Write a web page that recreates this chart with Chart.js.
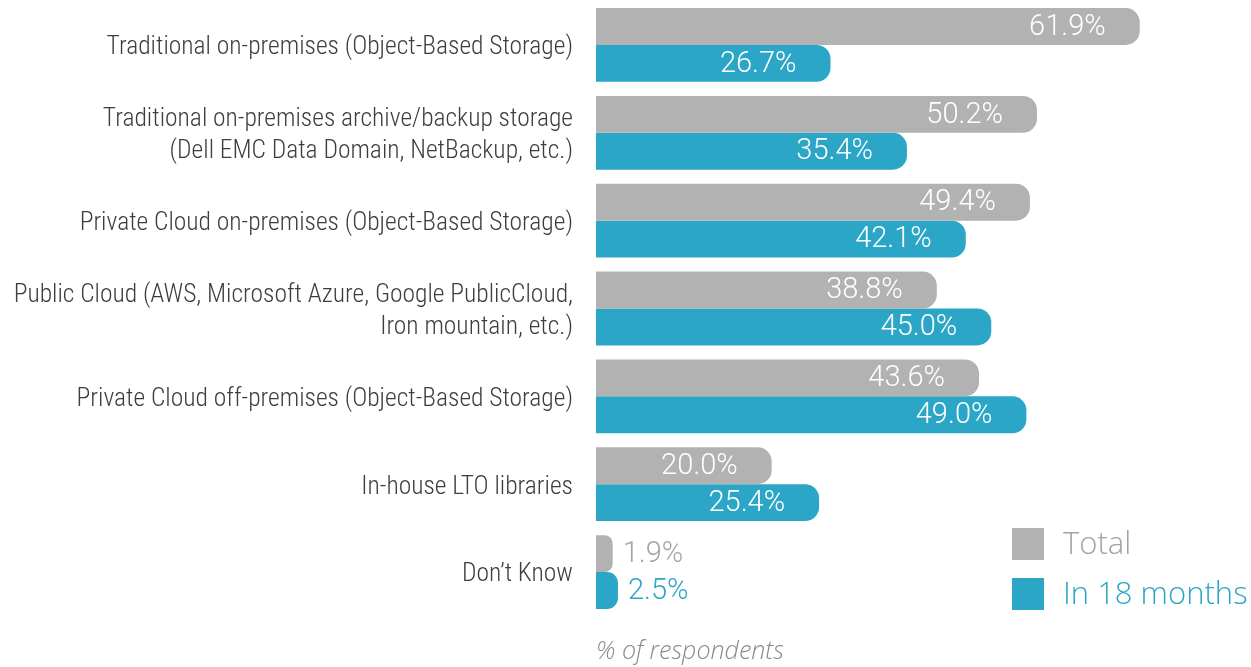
<!DOCTYPE html>
<html>
<head>
<meta charset="utf-8">
<script src="https://cdn.jsdelivr.net/npm/chart.js@4.4.1/dist/chart.umd.min.js"></script>
<style>
  html, body { margin: 0; padding: 0; background: #ffffff; }
  #wrap { position: relative; width: 1251px; height: 667px; }
</style>
</head>
<body>
<div id="wrap"><canvas id="c"></canvas></div>
<script>
const categories = [
  ["Traditional on-premises (Object-Based Storage)"],
  ["Traditional on-premises archive/backup storage", "(Dell EMC Data Domain, NetBackup, etc.)"],
  ["Private Cloud on-premises (Object-Based Storage)"],
  ["Public Cloud (AWS, Microsoft Azure, Google PublicCloud,", "Iron mountain, etc.)"],
  ["Private Cloud off-premises (Object-Based Storage)"],
  ["In-house LTO libraries"],
  ["Don\u2019t Know"]
];
const totalValues = [61.9, 50.2, 49.4, 38.8, 43.6, 20.0, 1.9];
const in18Values = [26.7, 35.4, 42.1, 45.0, 49.0, 25.4, 2.5];
const seriesNames = ["Total", "In 18 months"];
const axisTitle = "% of respondents";

const GRAY = '#b2b2b2';
const TEAL = '#2ba6c6';
const LABEL_FONT = '"Roboto Condensed", "Liberation Sans Narrow", Roboto, sans-serif';

const valueLabels = {
  id: 'valueLabels',
  afterDatasetsDraw(chart) {
    const ctx = chart.ctx;
    ctx.save();
    ctx.font = '300 29px Roboto, "Open Sans", sans-serif';
    ctx.textBaseline = 'middle';
    chart.data.datasets.forEach((ds, di) => {
      const meta = chart.getDatasetMeta(di);
      meta.data.forEach((bar, i) => {
        const v = ds.data[i];
        const txt = v.toFixed(1) + '%';
        const w = bar.x - bar.base;
        if (w > 100) {
          ctx.fillStyle = '#ffffff';
          ctx.textAlign = 'right';
          ctx.fillText(txt, bar.x - 34, bar.y + 1);
        } else {
          ctx.fillStyle = di === 0 ? '#a6a6a6' : TEAL;
          ctx.textAlign = 'left';
          ctx.fillText(txt, bar.x + 10, bar.y + 1);
        }
      });
    });
    ctx.restore();
  }
};

const customLegend = {
  id: 'customLegend',
  afterDraw(chart) {
    const ctx = chart.ctx;
    const colors = [GRAY, TEAL];
    const textColors = ['#a3a3a3', TEAL];
    ctx.save();
    ctx.font = '300 31px "Open Sans", sans-serif';
    ctx.textBaseline = 'middle';
    ctx.textAlign = 'left';
    chart.data.datasets.forEach((ds, i) => {
      const y = 528 + i * 50;
      ctx.fillStyle = colors[i];
      ctx.fillRect(1012, y, 32, 32);
      ctx.fillStyle = textColors[i];
      ctx.fillText(ds.label, 1063, y + 17);
    });
    ctx.restore();
  }
};

new Chart(document.getElementById('c'), {
  type: 'bar',
  data: {
    labels: categories,
    datasets: [
      { label: seriesNames[0], data: totalValues, backgroundColor: GRAY, borderRadius: 14, borderSkipped: 'start' },
      { label: seriesNames[1], data: in18Values, backgroundColor: TEAL, borderRadius: 14, borderSkipped: 'start' }
    ]
  },
  options: {
    indexAxis: 'y',
    responsive: true,
    maintainAspectRatio: false,
    animation: false,
    layout: { padding: { top: 1, right: 5, bottom: 0, left: 0 } },
    datasets: { bar: { categoryPercentage: 0.84, barPercentage: 1.0 } },
    plugins: {
      legend: { display: false },
      tooltip: { enabled: false }
    },
    scales: {
      x: {
        min: 0,
        max: 74,
        grid: { display: false, drawTicks: false },
        border: { display: false },
        ticks: { display: false },
        title: {
          display: true,
          text: axisTitle,
          align: 'start',
          color: '#8a8a8a',
          font: { family: '"Open Sans", sans-serif', size: 25, style: 'italic', weight: 300 },
          padding: { top: 21, bottom: 0 }
        }
      },
      y: {
        grid: { display: false, drawTicks: false },
        border: { display: false },
        afterFit(scale) {
          scale.width = 596;
          scale.paddingTop = 0;
          scale.paddingBottom = 0;
        },
        ticks: {
          color: '#3d3d3d',
          padding: 23,
          labelOffset: 3,
          font: { family: LABEL_FONT, size: 25.5, weight: 300, lineHeight: 1.25 }
        }
      }
    }
  },
  plugins: [valueLabels, customLegend]
});
</script>
</body>
</html>
